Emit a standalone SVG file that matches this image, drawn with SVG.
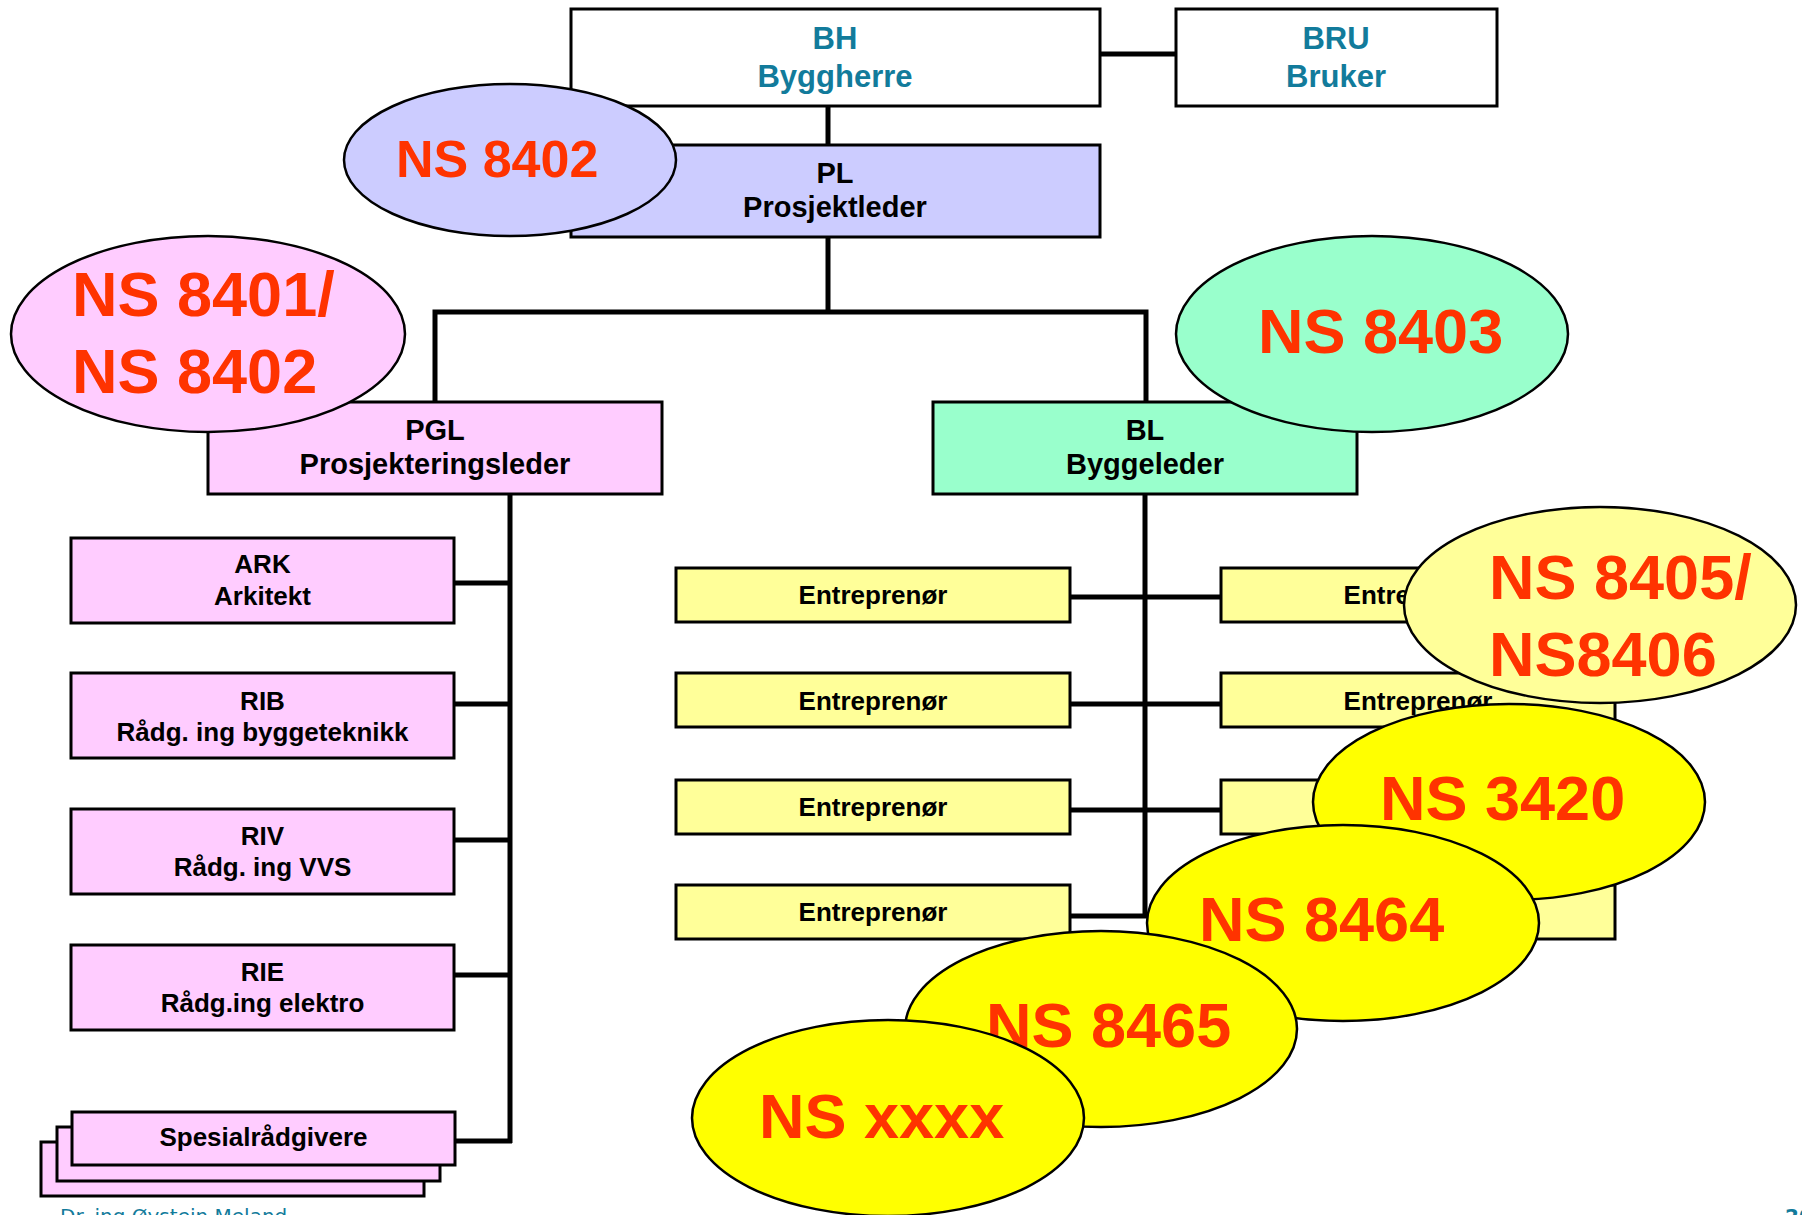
<svg xmlns="http://www.w3.org/2000/svg" width="1802" height="1215" viewBox="0 0 1802 1215">
  <style>
    .box { stroke: #000; stroke-width: 3; }
    .ell { stroke: #000; stroke-width: 2.5; }
    .wire { stroke: #000; stroke-width: 5; fill: none; }
    .lbl { font-family: "Liberation Sans", Arial, sans-serif; font-weight: bold; text-anchor: middle; fill: #000; }
    .teal { fill: #127b9b; }
    .ns { font-family: "Liberation Sans", Arial, sans-serif; font-weight: bold; fill: #ff3300; }
    .f31 { font-size: 31px; }
    .f29 { font-size: 29px; }
    .f26 { font-size: 26px; }
    .lav { fill: #ccccff; }
    .pink { fill: #ffccff; }
    .mint { fill: #99ffcc; }
    .lyel { fill: #ffff99; }
    .yel { fill: #ffff00; }
    .white { fill: #ffffff; }
  </style>

  <rect x="0" y="0" width="1802" height="1215" fill="#ffffff"/>

  <!-- connectors -->
  <g id="connectors">
    <line class="wire" x1="1100" y1="54" x2="1176" y2="54"/>
    <line class="wire" x1="828" y1="106" x2="828" y2="145"/>
    <line class="wire" x1="828" y1="237" x2="828" y2="312"/>
    <polyline class="wire" points="435,402 435,312 1146,312 1146,402"/>
    <!-- design branch -->
    <line class="wire" x1="510" y1="494" x2="510" y2="1143"/>
    <line class="wire" x1="454" y1="583" x2="510" y2="583"/>
    <line class="wire" x1="454" y1="704" x2="510" y2="704"/>
    <line class="wire" x1="454" y1="840" x2="510" y2="840"/>
    <line class="wire" x1="454" y1="975" x2="510" y2="975"/>
    <line class="wire" x1="454" y1="1141" x2="512" y2="1141"/>
    <!-- construction branch -->
    <line class="wire" x1="1145" y1="494" x2="1145" y2="918"/>
    <line class="wire" x1="1070" y1="597" x2="1221" y2="597"/>
    <line class="wire" x1="1070" y1="704" x2="1221" y2="704"/>
    <line class="wire" x1="1070" y1="810" x2="1221" y2="810"/>
    <line class="wire" x1="1070" y1="916" x2="1221" y2="916"/>
  </g>

  <!-- top level -->
  <g id="bh">
    <rect class="box white" x="571" y="9" width="529" height="97"/>
    <text class="lbl teal f31" x="835" y="49">BH</text>
    <text class="lbl teal f31" x="835" y="87">Byggherre</text>
  </g>
  <g id="bru">
    <rect class="box white" x="1176" y="9" width="321" height="97"/>
    <text class="lbl teal f31" x="1336" y="49">BRU</text>
    <text class="lbl teal f31" x="1336" y="87">Bruker</text>
  </g>
  <g id="pl">
    <rect class="box lav" x="571" y="145" width="529" height="92"/>
    <text class="lbl f29" x="835" y="183">PL</text>
    <text class="lbl f29" x="835" y="217">Prosjektleder</text>
  </g>
  <g id="ns8402-pl">
    <ellipse class="ell lav" cx="510" cy="160" rx="166" ry="76"/>
    <text class="ns" x="396" y="177" font-size="52">NS 8402</text>
  </g>

  <g id="pgl">
    <rect class="box pink" x="208" y="402" width="454" height="92"/>
    <text class="lbl f29" x="435" y="440">PGL</text>
    <text class="lbl f29" x="435" y="474">Prosjekteringsleder</text>
  </g>
  <g id="ns8401">
    <ellipse class="ell pink" cx="208" cy="334" rx="197" ry="98"/>
    <text class="ns" x="72" y="316" font-size="63">NS 8401/</text>
    <text class="ns" x="72" y="393" font-size="63">NS 8402</text>
  </g>

  <g id="bl">
    <rect class="box mint" x="933" y="402" width="424" height="92"/>
    <text class="lbl f29" x="1145" y="440">BL</text>
    <text class="lbl f29" x="1145" y="474">Byggeleder</text>
  </g>
  <g id="ns8403">
    <ellipse class="ell mint" cx="1372" cy="334" rx="196" ry="98"/>
    <text class="ns" x="1258" y="353" font-size="63">NS 8403</text>
  </g>

  <!-- consultants -->
  <g id="ark">
    <rect class="box pink" x="71" y="538" width="383" height="85"/>
    <text class="lbl f26" x="262.5" y="573">ARK</text>
    <text class="lbl f26" x="262.5" y="605">Arkitekt</text>
  </g>
  <g id="rib">
    <rect class="box pink" x="71" y="673" width="383" height="85"/>
    <text class="lbl f26" x="262.5" y="710">RIB</text>
    <text class="lbl f26" x="262.5" y="741">Rådg. ing byggeteknikk</text>
  </g>
  <g id="riv">
    <rect class="box pink" x="71" y="809" width="383" height="85"/>
    <text class="lbl f26" x="262.5" y="845">RIV</text>
    <text class="lbl f26" x="262.5" y="876">Rådg. ing VVS</text>
  </g>
  <g id="rie">
    <rect class="box pink" x="71" y="945" width="383" height="85"/>
    <text class="lbl f26" x="262.5" y="981">RIE</text>
    <text class="lbl f26" x="262.5" y="1012">Rådg.ing elektro</text>
  </g>
  <g id="spesial">
    <rect class="box pink" x="41" y="1142" width="383" height="54"/>
    <text class="lbl f26" x="232.5" y="1176">Spesialrådgivere</text>
    <rect class="box pink" x="57" y="1127" width="383" height="54"/>
    <text class="lbl f26" x="248.5" y="1161">Spesialrådgivere</text>
    <rect class="box pink" x="72" y="1112" width="383" height="53"/>
    <text class="lbl f26" x="263.5" y="1146">Spesialrådgivere</text>
  </g>

  <!-- contractors -->
  <g id="entr-l1">
    <rect class="box lyel" x="676" y="568" width="394" height="54"/>
    <text class="lbl f26" x="873" y="604">Entreprenør</text>
  </g>
  <g id="entr-l2">
    <rect class="box lyel" x="676" y="673" width="394" height="54"/>
    <text class="lbl f26" x="873" y="710">Entreprenør</text>
  </g>
  <g id="entr-l3">
    <rect class="box lyel" x="676" y="780" width="394" height="54"/>
    <text class="lbl f26" x="873" y="816">Entreprenør</text>
  </g>
  <g id="entr-l4">
    <rect class="box lyel" x="676" y="885" width="394" height="54"/>
    <text class="lbl f26" x="873" y="921">Entreprenør</text>
  </g>
  <g id="entr-r1">
    <rect class="box lyel" x="1221" y="568" width="394" height="54"/>
    <text class="lbl f26" x="1418" y="604">Entreprenør</text>
  </g>
  <g id="entr-r2">
    <rect class="box lyel" x="1221" y="673" width="394" height="54"/>
    <text class="lbl f26" x="1418" y="710">Entreprenør</text>
  </g>
  <g id="entr-r3">
    <rect class="box lyel" x="1221" y="780" width="394" height="54"/>
  </g>
  <g id="entr-r4">
    <rect class="box lyel" x="1221" y="885" width="394" height="54"/>
  </g>

  <!-- contract standards -->
  <g id="ns8405">
    <ellipse class="ell lyel" cx="1600" cy="605" rx="196" ry="98"/>
    <text class="ns" x="1489" y="599" font-size="63">NS 8405/</text>
    <text class="ns" x="1489" y="676" font-size="63">NS8406</text>
  </g>
  <g id="ns3420">
    <ellipse class="ell yel" cx="1509" cy="802" rx="196" ry="98"/>
    <text class="ns" x="1380" y="820" font-size="63">NS 3420</text>
  </g>
  <g id="ns8464">
    <ellipse class="ell yel" cx="1343" cy="923" rx="196" ry="98"/>
    <text class="ns" x="1199" y="941" font-size="63">NS 8464</text>
  </g>
  <g id="ns8465">
    <ellipse class="ell yel" cx="1101" cy="1029" rx="196" ry="98"/>
    <text class="ns" x="986" y="1047" font-size="63">NS 8465</text>
  </g>
  <g id="nsxxxx">
    <ellipse class="ell yel" cx="888" cy="1118" rx="196" ry="98"/>
    <text class="ns" x="759" y="1138" font-size="63">NS xxxx</text>
  </g>

  <!-- footer -->
  <text x="60" y="1223" font-family="DejaVu Sans, Verdana, sans-serif" font-size="20" fill="#127b9b">Dr. ing Øystein Meland</text>
  <text x="1785" y="1223" font-family="DejaVu Sans, Verdana, sans-serif" font-size="20" font-weight="bold" fill="#127b9b">20</text>
</svg>
